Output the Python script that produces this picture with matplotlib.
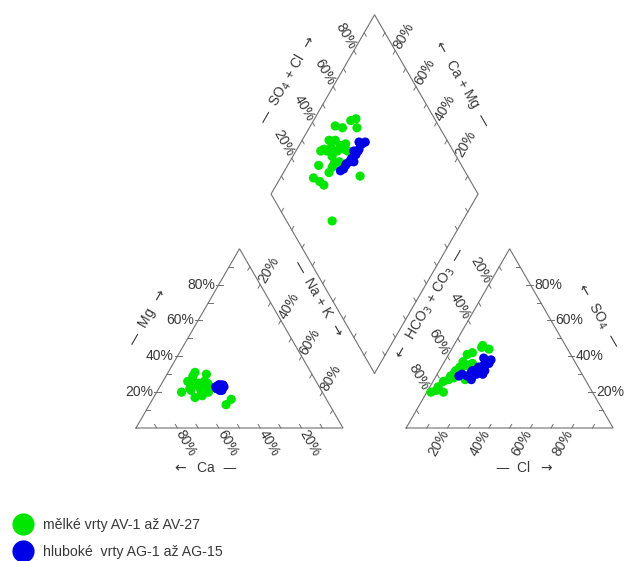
import numpy as np
import matplotlib
matplotlib.use('Agg')
import matplotlib.pyplot as plt
from matplotlib.lines import Line2D

plt.rcParams['font.family'] = ['Liberation Sans', 'DejaVu Sans']
plt.rcParams['mathtext.fontset'] = 'dejavusans'

# meq % -- shallow wells AV-1 .. AV-27
av_ca   = [58, 57, 62, 60, 58, 59, 56, 57, 51, 59, 62, 63, 59, 46, 50, 63, 55, 54, 68, 55, 63, 53, 56, 55, 57, 60, 53]
av_mg   = [22, 20, 26, 24, 29, 25, 24, 21, 30, 19, 23, 21, 18, 16, 13, 22, 20, 26, 20, 23, 17, 24, 31, 21, 25, 24, 25]
av_nak  = [20, 23, 12, 16, 13, 16, 20, 22, 19, 22, 15, 16, 23, 38, 37, 15, 25, 20, 12, 22, 20, 23, 13, 24, 18, 16, 22]
av_hco3 = [38, 40, 50, 47, 62, 58, 56, 50, 60, 61, 69, 75, 72, 52, 78, 61, 51, 53, 64, 63, 73, 52, 57, 58, 41, 54, 66]
av_so4  = [44, 46, 41, 42, 30, 33, 34, 36, 32, 30, 26, 21, 20, 30, 20, 31, 33, 35, 29, 28, 23, 35, 34, 27, 45, 37, 27]
av_cl   = [18, 14,  9, 11,  8,  9, 10, 14,  8,  9,  5,  4,  8, 18,  2,  8, 16, 12,  7,  9,  4, 13,  9, 15, 14,  9,  7]

# meq % -- deep wells AG-1 .. AG-15
ag_ca   = [46, 50, 48, 48, 49, 48, 48, 50, 48, 46, 47, 50, 49, 49, 47]
ag_mg   = [23, 22, 24, 23, 22, 21, 24, 23, 22, 24, 23, 22, 23, 21, 24]
ag_nak  = [31, 28, 28, 29, 29, 31, 28, 27, 30, 30, 30, 28, 28, 30, 29]
ag_hco3 = [40, 43, 48, 51, 53, 51, 56, 60, 45, 48, 42, 55, 58, 46, 52]
ag_so4  = [38, 39, 34, 32, 31, 30, 29, 29, 35, 30, 36, 27, 30, 32, 32]
ag_cl   = [22, 18, 18, 17, 16, 19, 15, 11, 20, 22, 22, 18, 12, 22, 16]

groups = [
    ('mělké vrty AV-1 až AV-27', '#00e600', av_mg, av_nak, av_hco3, av_so4, av_cl),
    ('hluboké  vrty AG-1 až AG-15', '#0000e6', ag_mg, ag_nak, ag_hco3, ag_so4, ag_cl),
]

ticks = [10, 20, 30, 40, 50, 60, 70, 80, 90]
labelled = [20, 40, 60, 80]

LINE = '#707070'
TXT = '#383838'
FS = 10

H = np.sqrt(3) / 2
GAP = 0.305
O = np.array([1 + GAP, 0.0])           # origin of the anion triangle
B = np.array([1 + GAP / 2, GAP * H])   # bottom corner of the diamond
UL = np.array([-0.5, H]); UR = np.array([0.5, H])
DL = -UR; DR = -UL
LEFT = np.array([-1.0, 0.0]); RIGHT = np.array([1.0, 0.0])
L = B + UL; T = B + 2 * np.array([0, H]); R = B + UR


def cation_xy(mg, nak):
    mg = np.asarray(mg) / 100; nak = np.asarray(nak) / 100
    return nak + 0.5 * mg, H * mg


def anion_xy(so4, cl):
    so4 = np.asarray(so4) / 100; cl = np.asarray(cl) / 100
    return O[0] + cl + 0.5 * so4, H * so4


def diamond_xy(nak, hco3):
    c = 1 - np.asarray(nak) / 100
    s = 1 - np.asarray(hco3) / 100
    return B[0] + 0.5 * (s - c), B[1] + H * (s + c)


SCALE = 207.0
fig = plt.figure(figsize=(6.24, 5.61), dpi=100)
ax = fig.add_axes([0, 0, 1, 1])
ax.set_xlim(-136 / SCALE, (624 - 136) / SCALE)
ax.set_ylim(-(561 - 428) / SCALE, 428 / SCALE)
ax.axis('off')

# outlines
for poly in ([(0, 0), (1, 0), (0.5, H), (0, 0)],
             [tuple(O), tuple(O + RIGHT), tuple(O + UR), tuple(O)],
             [tuple(B), tuple(L), tuple(T), tuple(R), tuple(B)]):
    xs, ys = zip(*poly)
    ax.plot(xs, ys, color=LINE, lw=0.8, solid_joinstyle='miter')


def axis_ticks(pos, inward, outward, rot, ha='center', labels=True, side_tick=False):
    for v in ticks:
        p = pos(v / 100)
        q = p + 0.02 * inward
        ax.plot([p[0], q[0]], [p[1], q[1]], color=LINE, lw=0.7)
        if labels and v in labelled:
            if side_tick:
                q = p + 0.013 * outward
                ax.plot([p[0], q[0]], [p[1], q[1]], color=LINE, lw=0.7)
                t = p + 0.018 * outward
            else:
                t = p + 0.082 * outward
            ax.text(t[0], t[1], f'{v}%', rotation=rot, ha=ha, va='center',
                    rotation_mode='anchor', fontsize=FS, color=TXT)


# cation triangle
axis_ticks(lambda f: np.array([1 - f, 0]), UL, DR, -60)                      # Ca
axis_ticks(lambda f: f * UR, RIGHT, LEFT, 0, ha='right', side_tick=True)     # Mg
axis_ticks(lambda f: np.array([0.5, H]) + f * DR, DL, UR, 60)                # Na + K
# anion triangle
axis_ticks(lambda f: O + np.array([f, 0]), UR, DL, 60)                       # Cl
axis_ticks(lambda f: O + RIGHT + f * UL, LEFT, RIGHT, 0, ha='left', side_tick=True)  # SO4
axis_ticks(lambda f: O + UR + f * DL, DR, UL, -60)                           # HCO3 + CO3
# diamond
axis_ticks(lambda f: L + f * UR, DR, UL, -60)                                # SO4 + Cl
axis_ticks(lambda f: R + f * UL, DL, UR, 60)                                 # Ca + Mg
axis_ticks(lambda f: L + f * DR, UR, DL, 0, labels=False)
axis_ticks(lambda f: R + f * DL, UL, DR, 0, labels=False)


def edge_title(a, e, f, normal, off, text, rot):
    p = np.asarray(a) + f * (np.asarray(e) - np.asarray(a)) + off * np.asarray(normal)
    ax.text(p[0], p[1], text, rotation=rot, ha='center', va='center',
            rotation_mode='anchor', fontsize=FS, color=TXT)


RA = r'$\rightarrow$'
LA = r'$\leftarrow$'
NL = np.array([-H, 0.5]); NR = np.array([H, 0.5]); ND = np.array([0, -1])
edge_title((0, 0), (0.5, H), 0.49, NL, 0.215, f'—  Mg  {RA}', 60)
edge_title((0, 0), (1, 0), 0.333, ND, 0.193, f'{LA}  Ca  —', 0)
edge_title((0.5, H), (1, 0), 0.396, NR, 0.209, f'—  Na + K  {RA}', -60)
edge_title(L, T, 0.517, NL, 0.207, f'—  SO$_4$ + Cl  {RA}', 60)
edge_title(T, R, 0.495, NR, 0.199, f'{LA}  Ca + Mg  —', -60)
edge_title(O + UR, O, 0.424, NL, 0.2, f'{LA}  HCO$_3$ + CO$_3$  —', 60)
edge_title(O + UR, O + RIGHT, 0.49, NR, 0.21, f'{LA}  SO$_4$  —', -60)
edge_title(O, O + RIGHT, 0.569, ND, 0.193, f'—  Cl  {RA}', 0)

# samples
handles = []
for name, col, mg, nak, hco3, so4, cl in groups:
    for x, y in (cation_xy(mg, nak), anion_xy(so4, cl), diamond_xy(nak, hco3)):
        ax.scatter(x, y, s=44, color=col, edgecolors='none', zorder=3)
    handles.append(Line2D([], [], ls='none', marker='o', ms=16, color=col,
                          markeredgewidth=0, label=name))

ax.legend(handles=handles, loc='upper left', bbox_to_anchor=(0.024, 0.076),
          bbox_transform=fig.transFigure, frameon=False, fontsize=10.2,
          labelcolor=TXT, handlelength=1.2, handletextpad=0.75,
          labelspacing=0.86, borderaxespad=0, borderpad=0)

fig.savefig('out.png', dpi=100)
